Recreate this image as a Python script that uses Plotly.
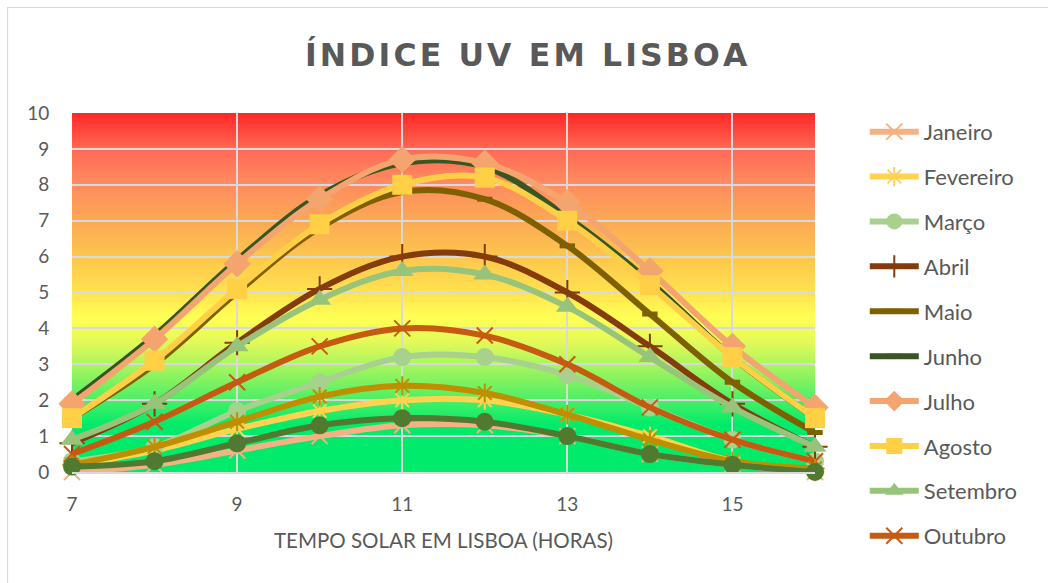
import plotly.graph_objects as go

# Hora solar (eixo X)
horas = [7, 8, 9, 10, 11, 12, 13, 14, 15, 16]

# Índice UV médio por mês
meses = ["Janeiro", "Fevereiro", "Março", "Abril", "Maio", "Junho",
         "Julho", "Agosto", "Setembro", "Outubro", "Novembro", "Dezembro"]
janeiro = [0.0, 0.2, 0.6, 1.0, 1.3, 1.3, 1.0, 0.5, 0.2, 0.0]
fevereiro = [0.2, 0.6, 1.2, 1.7, 2.0, 2.0, 1.6, 1.0, 0.3, 0.0]
marco = [0.3, 0.7, 1.7, 2.5, 3.2, 3.2, 2.7, 1.8, 0.9, 0.3]
abril = [0.8, 1.9, 3.6, 5.1, 6.0, 6.0, 5.0, 3.5, 1.9, 0.7]
maio = [1.5, 3.0, 5.0, 6.8, 7.8, 7.6, 6.3, 4.4, 2.5, 1.1]
junho = [2.0, 3.8, 5.9, 7.7, 8.6, 8.5, 7.1, 5.3, 3.2, 1.5]
julho = [1.9, 3.7, 5.8, 7.6, 8.7, 8.6, 7.5, 5.6, 3.5, 1.8]
agosto = [1.5, 3.1, 5.1, 6.9, 8.0, 8.2, 7.0, 5.2, 3.2, 1.5]
setembro = [0.9, 1.9, 3.5, 4.8, 5.6, 5.5, 4.6, 3.2, 1.8, 0.7]
outubro = [0.5, 1.4, 2.5, 3.5, 4.0, 3.8, 3.0, 1.8, 0.9, 0.3]
novembro = [0.2, 0.7, 1.4, 2.1, 2.4, 2.2, 1.6, 0.9, 0.3, 0.1]
dezembro = [0.15, 0.3, 0.8, 1.3, 1.5, 1.4, 1.0, 0.5, 0.2, 0.0]

series = [janeiro, fevereiro, marco, abril, maio, junho,
          julho, agosto, setembro, outubro, novembro, dezembro]

# Estilo de cada série: cor, símbolo, tamanho, espessura do contorno
estilos = [
    ("#F4B183", "x-thin-open", 16, 2),
    ("#FFD34F", "asterisk-open", 16, 2),
    ("#A9D18E", "circle", 18, 0),
    ("#843C0C", "cross-thin-open", 18, 2),
    ("#7F6000", "line-ew-open", 11, 5),
    ("#375623", "line-ew-open", 11, 5),
    ("#F4A46E", "diamond", 21, 0),
    ("#FFD045", "square", 20, 0),
    ("#97C47A", "triangle-up", 20, 0),
    ("#C55A11", "x-thin-open", 16, 2),
    ("#BF8F00", "asterisk-open", 16, 2),
    ("#4F7A2F", "circle", 18, 0),
]

# Paragens do gradiente de fundo (valor do índice -> cor)
grad_valores = [0.0, 1.3, 2.5, 3.6, 4.3, 5.0, 6.0, 7.0, 8.0, 9.0, 10.0]
grad_cores = ["#00EB6B", "#00EB6B", "#7DF262", "#E2F95A", "#FFFF55", "#FFE24F",
              "#FDC64E", "#FBA955", "#FF8C60", "#FF6A55", "#FF2626"]

TXT = "#595959"
GRID = "#D9D9D9"


def hex_rgb(h):
    h = h.lstrip("#")
    return tuple(int(h[i:i + 2], 16) for i in (0, 2, 4))


def cor_em(v):
    for i in range(len(grad_valores) - 1):
        a, b = grad_valores[i], grad_valores[i + 1]
        if a <= v <= b:
            t = (v - a) / (b - a) if b > a else 0
            c0, c1 = hex_rgb(grad_cores[i]), hex_rgb(grad_cores[i + 1])
            c = [round(c0[k] + (c1[k] - c0[k]) * t) for k in range(3)]
            return "rgb(%d,%d,%d)" % tuple(c)
    return grad_cores[-1]


fig = go.Figure()

for nome, valores, (cor, simb, tam, lw) in zip(meses, series, estilos):
    aberto = simb.endswith("-open")
    fig.add_trace(go.Scatter(
        x=horas, y=valores, name=nome, mode="lines+markers",
        line=dict(color=cor, width=6, shape="spline", smoothing=1),
        marker=dict(symbol=simb, size=tam, color=cor,
                    line=dict(color=cor, width=lw if aberto else 0)),
        cliponaxis=False, legendgroup=nome,
        showlegend=nome not in ("Novembro", "Dezembro"),
    ))

# Fundo em gradiente vertical: faixas empilhadas, cada uma até ao topo,
# para que as arestas se fundam com a faixa anterior
passos = 240
shapes = []
for i in range(passos):
    y0 = 10.0 * i / passos
    y1 = 10.0 * (i + 1) / passos
    shapes.append(dict(type="rect", xref="x", yref="y", x0=7, x1=16,
                       y0=y0, y1=10, layer="below",
                       fillcolor=cor_em((y0 + y1) / 2), line=dict(width=0)))

# Moldura exterior do gráfico
shapes.append(dict(type="rect", xref="paper", yref="paper",
                   x0=-0.0868, x1=1.35, y0=-0.40, y1=1.2939,
                   line=dict(color=GRID, width=1.2), fillcolor="rgba(0,0,0,0)",
                   layer="below"))

titulo = "<b>" + "\u200A".join("ÍNDICE UV EM LISBOA") + "</b>"

fig.update_layout(
    width=1048, height=583,
    margin=dict(l=72, r=233, t=113, b=111),
    paper_bgcolor="white", plot_bgcolor="white",
    font=dict(family="Lato", color=TXT),
    title=dict(text=titulo, x=0.502, xanchor="center", y=1 - 55 / 583,
               yanchor="middle", yref="container",
               font=dict(family="DejaVu Sans", size=31.5, color=TXT)),
    shapes=shapes,
    legend=dict(x=1.067, y=1.006, xanchor="left", yanchor="top",
                font=dict(size=22, color=TXT), itemwidth=49,
                tracegroupgap=13.3, bgcolor="rgba(0,0,0,0)", maxheight=560),
    annotations=[dict(text="TEMPO SOLAR EM LISBOA (HORAS)", xref="paper",
                      yref="paper", x=0.5, y=(472 - 540) / 359,
                      xanchor="center", yanchor="middle", showarrow=False,
                      font=dict(size=20.5, color=TXT))],
)

fig.update_xaxes(range=[7, 16], tick0=7, dtick=2, showgrid=True,
                 gridcolor=GRID, gridwidth=1.5, zeroline=False,
                 showline=True, linecolor=GRID, linewidth=1.5,
                 ticks="outside", ticklen=14, tickcolor="rgba(0,0,0,0)",
                 tickfont=dict(size=19, color=TXT))
fig.update_yaxes(range=[0, 10], dtick=1, showgrid=True, gridcolor=GRID,
                 gridwidth=1.5, zeroline=False, showline=False,
                 ticks="outside", ticklen=18, tickcolor="rgba(0,0,0,0)",
                 tickfont=dict(size=19, color=TXT))

fig.write_html("out.html")
